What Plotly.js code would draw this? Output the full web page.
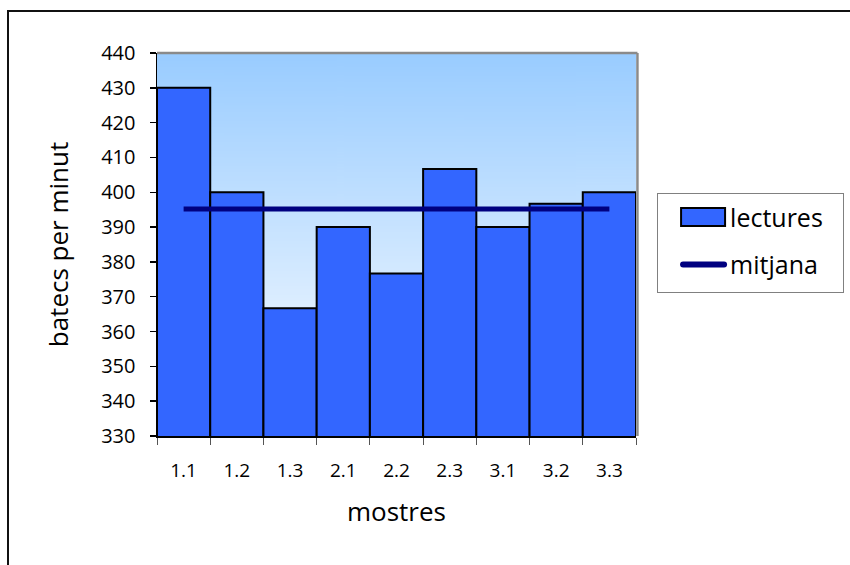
<!DOCTYPE html>
<html>
<head>
<meta charset="utf-8">
<script src="https://cdn.plot.ly/plotly-3.0.1.min.js"></script>
<style>
  html, body { margin: 0; padding: 0; background: #ffffff; }
  #wrap { position: relative; width: 850px; height: 565px; overflow: hidden; }
  #chart { position: absolute; left: 0; top: 0; width: 850px; height: 565px; }
  #frame {
    position: absolute; left: 7px; top: 10px; width: 900px; height: 600px;
    border-left: 2px solid #111; border-top: 2px solid #111;
    pointer-events: none;
  }
</style>
</head>
<body>
<div id="wrap">
  <div id="chart"></div>
  <div id="frame"></div>
</div>
<script>
// Sample labels and heart-rate readings (beats per minute)
const mostres = ['1.1', '1.2', '1.3', '2.1', '2.2', '2.3', '3.1', '3.2', '3.3'];
const lectures = [430, 400, 366.7, 390, 376.7, 406.7, 390, 396.7, 400];
// Average reading, drawn across all samples
const mitjana = [395.2, 395.2, 395.2, 395.2, 395.2, 395.2, 395.2, 395.2, 395.2];
const yTicks = [330, 340, 350, 360, 370, 380, 390, 400, 410, 420, 430, 440];

// Vertical blue-to-white fill for the plotting area
function gradientImage() {
  const c = document.createElement('canvas');
  c.width = 4; c.height = 256;
  const g = c.getContext('2d');
  const grad = g.createLinearGradient(0, 0, 0, 256);
  grad.addColorStop(0, '#99ccff');
  grad.addColorStop(1, '#ffffff');
  g.fillStyle = grad;
  g.fillRect(0, 0, 4, 256);
  return c.toDataURL('image/png');
}

const FONT = '"Open Sans", "Noto Sans", sans-serif';

const traces = [
  {
    type: 'bar',
    name: 'lectures',
    legendgroup: 'g1',
    x: mostres,
    y: lectures,
    marker: { color: '#3366ff', line: { color: '#000000', width: 2 } },
    hoverinfo: 'x+y'
  },
  {
    type: 'scatter',
    mode: 'lines',
    name: 'mitjana',
    legendgroup: 'g2',
    x: mostres,
    y: mitjana,
    line: { color: '#000080', width: 5 },
    hoverinfo: 'y'
  }
];

const layout = {
  width: 850,
  height: 565,
  margin: { l: 157, r: 214, t: 53, b: 129, pad: 0 },
  paper_bgcolor: '#ffffff',
  plot_bgcolor: 'rgba(0,0,0,0)',
  bargap: 0,
  font: { family: FONT, color: '#000000' },
  showlegend: true,
  legend: {
    x: 1.044, y: 0.634, xanchor: 'left', yanchor: 'top',
    bgcolor: '#ffffff', bordercolor: '#808080', borderwidth: 1,
    font: { family: FONT, size: 25, color: '#000000' },
    tracegroupgap: 12, itemwidth: 62
  },
  xaxis: {
    type: 'category',
    showgrid: false,
    showline: true, linecolor: '#000000', linewidth: 2,
    ticks: 'outside', tickson: 'boundaries', ticklen: 7, tickcolor: '#555555', tickwidth: 1,
    ticklabelstandoff: 16,
    tickfont: { family: FONT, size: 19, color: '#000000' },
    title: { text: 'mostres', font: { family: FONT, size: 26, color: '#000000' }, standoff: 21 },
    zeroline: false
  },
  yaxis: {
    range: [330, 440],
    tickvals: yTicks,
    ticktext: yTicks.map(String),
    showgrid: false,
    showline: true, linecolor: '#000000', linewidth: 1.5,
    ticks: 'outside', ticklen: 6, tickcolor: '#000000', tickwidth: 1.5,
    ticklabelstandoff: 10,
    tickfont: { family: FONT, size: 20, color: '#000000' },
    title: { text: 'batecs per minut', font: { family: FONT, size: 26, color: '#000000' }, standoff: 25 },
    zeroline: false
  },
  images: [{
    source: gradientImage(),
    xref: 'paper', yref: 'paper',
    x: 0, y: 1, sizex: 1, sizey: 1,
    xanchor: 'left', yanchor: 'top',
    sizing: 'stretch', layer: 'below'
  }],
  shapes: [
    // grey edge along the top and right of the plotting area
    { type: 'line', xref: 'paper', yref: 'paper', x0: 0, x1: 1.003, y0: 1, y1: 1,
      line: { color: '#8a8a8a', width: 2.5 } },
    { type: 'line', xref: 'paper', yref: 'paper', x0: 1.003, x1: 1.003, y0: 0, y1: 1,
      line: { color: '#8a8a8a', width: 2.5 } }
  ]
};

// Widen the legend keys: a long bar swatch and a long line placed just left of each label.
// Positions are worked out on screen and mapped back into each path's own coordinates.
function widenLegendKeys(gd) {
  const items = gd.querySelectorAll('.legend .traces');
  items.forEach(function (item, i) {
    const text = item.querySelector('text.legendtext');
    if (!text) return;
    const left = text.getBoundingClientRect().left;
    const p = i === 0 ? item.querySelector('.legendpoints path')
                      : item.querySelector('.legendlines path');
    if (!p) return;
    const m = p.getScreenCTM();
    const toLocal = function (sx) { return (sx - m.e) / m.a; };
    if (i === 0) {
      const x0 = toLocal(left - 49), x1 = toLocal(left - 5);
      p.setAttribute('d', 'M' + x0 + ',-9H' + x1 + 'V9H' + x0 + 'Z');
      p.style.strokeWidth = '2px';
      p.style.stroke = '#000000';
    } else {
      const x0 = toLocal(left - 47), x1 = toLocal(left - 6);
      p.setAttribute('d', 'M' + x0 + ',0H' + x1);
      p.style.strokeLinecap = 'round';
      p.style.strokeWidth = '6px';
    }
  });
  // give the legend box a little more room around the labels
  const bg = gd.querySelector('.legend rect.bg');
  if (bg) {
    bg.setAttribute('width', 186);
    bg.setAttribute('height', 99);
  }
}

Plotly.newPlot('chart', traces, layout, { displayModeBar: false, staticPlot: true })
  .then(widenLegendKeys);
</script>
</body>
</html>
